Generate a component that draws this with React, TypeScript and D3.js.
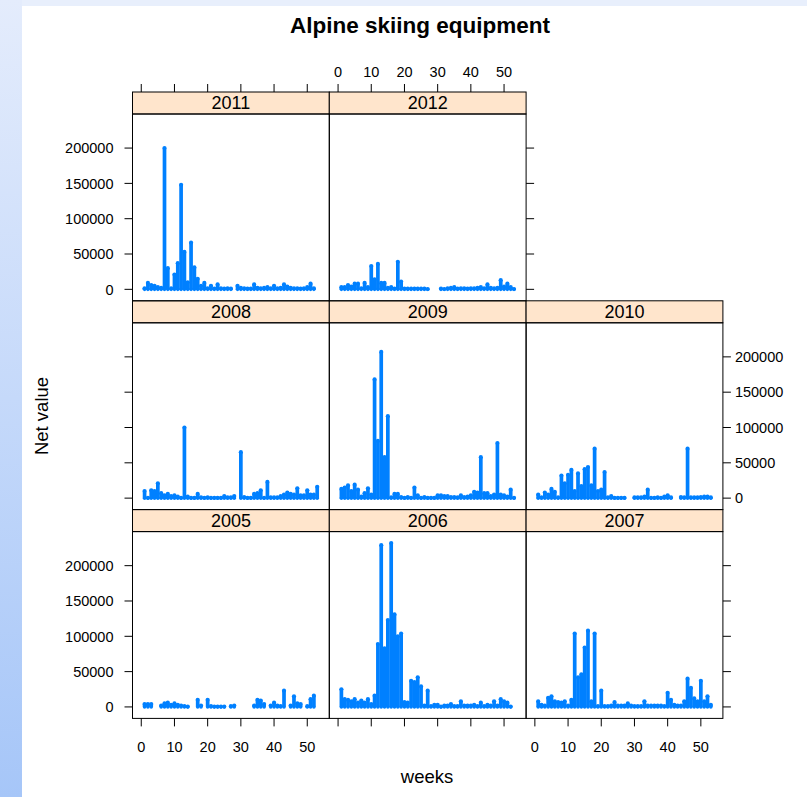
import * as d3 from 'd3';

// weekly net value of alpine skiing equipment, weeks 1..53 (null = no sales recorded)
const weeks = d3.range(1, 54);

const net2005 = [4000, 4000, 4000, null, null, 2000, 5000, 6000, 3000, 5000, 3000, 2000, 1000, 500, null, null, 10000, 2000, null, 10000, 1000, 500, 500, 500, 500, null, 1000, 2000, null, null, null, null, null, 2000, 10000, 9000, 4000, null, 2000, 6000, 2000, 1000, 23000, null, 2000, 15000, 5000, 4000, null, 1000, 11000, 16000, null];
const net2006 = [25000, 11000, 10000, 8000, 11000, 6000, 9000, 6000, 11000, 4000, 16000, 89000, 229000, 83000, 123000, 232000, 131000, 100000, 104000, 7000, 6000, 37000, 35000, 42000, 29000, 2000, 23000, 1000, 3000, 3000, 500, 2000, 2000, 4000, 1000, 1000, 8000, 2000, 2000, 2000, 3000, 1000, 6000, 1000, 3000, 2000, 8000, 2000, 11000, 8000, 6000, 500, null];
const net2007 = [8000, 3000, 2000, 13000, 15000, 8000, 7000, 6000, 8000, 2000, 10000, 104000, 42000, 46000, 84000, 108000, 8000, 104000, 1000, 23000, 1000, 1000, 2000, 7000, 2000, 2000, 2000, 5000, 2000, 1000, 1000, 1000, 8000, 2000, 2000, 2000, 2000, 2000, 1000, 20000, 10000, 3000, 2000, 2000, 8000, 40000, 27000, 12000, 8000, 37000, 8000, 15000, 3000];
const net2008 = [10000, 500, 11000, 10000, 21000, 7000, 4000, 6000, 3000, 4000, 2000, 500, 100000, 2000, 500, 500, 6000, 1000, 500, 1000, 500, 500, 500, 500, 3000, 1000, 1000, 3000, null, 65000, 1500, 500, 500, 6000, 7000, 11000, 500, 23000, 1000, 1000, 1000, 3000, 5000, 8000, 6000, 5000, 14000, 4000, 4000, 11000, 5000, 5000, 16000];
const net2009 = [13000, 15000, 18000, 10000, 19000, 12000, 2000, 7000, 14000, 5000, 168000, 81000, 207000, 58000, 116000, 1000, 6000, 6000, 1500, 500, 1500, 500, 15000, 4000, 500, 1500, 500, 500, 500, 4000, 4000, 3000, 3000, 1500, 1500, 1000, 4000, 1500, 2000, 4000, 9000, 8000, 58000, 7000, 7000, 3000, 5000, 78000, 5000, 4000, 2000, 12000, 500];
const net2010 = [5000, 1000, 8000, 5000, 13000, 9000, 1000, 32000, 21000, 33000, 40000, 10000, 35000, 17000, 41000, 44000, 18000, 70000, 10000, 12000, 37000, 1000, 3000, 500, 500, 500, 500, null, null, 1000, 1000, 1000, 2000, 12000, 500, 500, 1000, 500, 2000, 4000, 1000, null, null, 1500, 1000, 70000, 1000, 1000, 1000, 1500, 2000, 2000, 1000];
const net2011 = [1500, 9000, 6000, 5000, 3000, 2000, 200000, 30000, 1500, 21000, 37000, 148000, 53000, 10000, 66000, 31000, 15000, 5000, 9000, 1500, 5000, 1000, 7000, 1500, 1000, 1500, 1000, null, 5000, 2000, 1500, 1000, 1000, 7000, 2000, 1500, 2000, 3000, 1500, 5000, 1500, 2000, 7000, 4000, 2000, 1500, 1500, 1000, 1500, 3000, 8000, 1500, null];
const net2012 = [3000, 3000, 6000, 4000, 8000, 8000, 1500, 9000, 3000, 33000, 14000, 36000, 9000, 9000, 2000, 3000, 1000, 39000, 11000, 1000, 1000, 1000, 1000, 1000, 1000, 1000, 500, null, null, null, 1000, 500, 1500, 2000, 3000, 1000, 1500, 1500, 1000, 1500, 1500, 2000, 3000, 1500, 7000, 2000, 1500, 2000, 13000, 4000, 8000, 3000, 500];

const years = ['2005', '2006', '2007', '2008', '2009', '2010', '2011', '2012'];
const series = [net2005, net2006, net2007, net2008, net2009, net2010, net2011, net2012];

const xTicks = [0, 10, 20, 30, 40, 50];
const yTicks = [0, 50000, 100000, 150000, 200000];

const W = 807;
const H = 797;
const left = 132.5;
const top = 92;
const panelW = 196.8;
const stripH = 22;
const rowH = 208.8;
const panelH = rowH - stripH;
const blue = '#0080ff';
const font = '"Liberation Sans", Arial, sans-serif';

// lattice style: pad data range by 7% each side
const pad = ([a, b]: [number, number]): [number, number] => {
    const d = (b - a) * 0.07;
    return [a - d, b + d];
};

export default function App() {
    const x = d3.scaleLinear()
        .domain(pad(d3.extent(weeks) as [number, number]))
        .range([0, panelW]);
    const allValues = series.flat().filter((v): v is number => v != null);
    const y = d3.scaleLinear()
        .domain(pad([0, d3.max(allValues)!]))
        .range([panelH, 0]);

    return (
        <svg width={W} height={H} style={{ position: 'absolute', left: 0, top: 0 }} fontFamily={font}>
            <defs>
                <linearGradient id="side" x1="0" y1="0" x2="0" y2="1">
                    <stop offset="0%" stopColor="#e4ecfc" />
                    <stop offset="100%" stopColor="#a6c6f8" />
                </linearGradient>
            </defs>
            <rect width={W} height={H} fill="#e8effc" />
            <rect width={22} height={H} fill="url(#side)" />
            <rect x={22} y={6} width={W - 22} height={H - 6} fill="#fff" />

            <text x={420} y={33} textAnchor="middle" fontSize={22.5} fontWeight="bold">Alpine skiing equipment</text>
            <text x={427} y={783} textAnchor="middle" fontSize={18.5}>weeks</text>
            <text transform="translate(48,416) rotate(-90)" textAnchor="middle" fontSize={18.5}>Net value</text>

            {years.map((yr, i) => {
                const col = i % 3;
                const row = 2 - Math.floor(i / 3);
                const vals = series[i];
                const lastInRow = i === 2 || i === 5 || i === 7;
                return (
                    <g key={yr} transform={`translate(${left + col * panelW},${top + row * rowH})`}>
                        <rect width={panelW} height={stripH} fill="#ffe5cc" stroke="#000" />
                        <text x={panelW / 2} y={17} textAnchor="middle" fontSize={18}>{yr}</text>

                        {/* top axis */}
                        {row === 0 && xTicks.map((t) => (
                            <g key={t} transform={`translate(${x(t)},0)`}>
                                <line y1={-8} y2={0} stroke="#000" />
                                {col === 1 && <text y={-15} textAnchor="middle" fontSize={14.5}>{t}</text>}
                            </g>
                        ))}

                        <g transform={`translate(0,${stripH})`}>
                            {vals.map((v, k) => v == null ? null : (
                                <g key={k}>
                                    <line x1={x(weeks[k])} x2={x(weeks[k])} y1={y(0)} y2={y(v)} stroke={blue} strokeWidth={3.7} />
                                    <circle cx={x(weeks[k])} cy={y(v)} r={2.1} fill={blue} />
                                    <circle cx={x(weeks[k])} cy={y(0)} r={1.8} fill={blue} />
                                </g>
                            ))}
                            <rect width={panelW} height={panelH} fill="none" stroke="#000" />

                            {/* left axis */}
                            {col === 0 && yTicks.map((t) => (
                                <g key={t} transform={`translate(0,${y(t)})`}>
                                    <line x1={-8} x2={0} stroke="#000" />
                                    {row !== 1 && <text x={-19} dy="0.36em" textAnchor="end" fontSize={14.5}>{t}</text>}
                                </g>
                            ))}

                            {/* right axis */}
                            {lastInRow && yTicks.map((t) => (
                                <g key={t} transform={`translate(${panelW},${y(t)})`}>
                                    <line x1={0} x2={8} stroke="#000" />
                                    {row === 1 && <text x={12} dy="0.36em" textAnchor="start" fontSize={14.5}>{t}</text>}
                                </g>
                            ))}

                            {/* bottom axis */}
                            {row === 2 && xTicks.map((t) => (
                                <g key={t} transform={`translate(${x(t)},${panelH})`}>
                                    <line y1={0} y2={8} stroke="#000" />
                                    {col !== 1 && <text y={33.5} textAnchor="middle" fontSize={14.5}>{t}</text>}
                                </g>
                            ))}
                        </g>
                    </g>
                );
            })}
        </svg>
    );
}
